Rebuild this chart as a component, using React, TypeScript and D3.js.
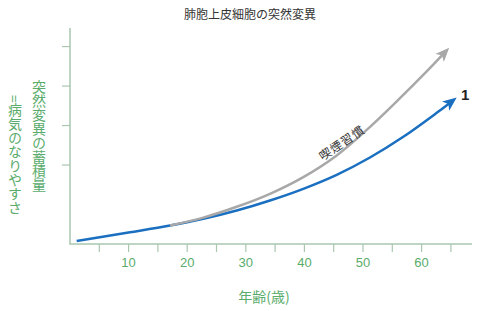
import React from "react";
import * as d3 from "d3";

const title = "肺胞上皮細胞の突然変異";
const xTitle = "年齢(歳)";
const yTitle1 = "突然変異の蓄積量";
const yTitle2 = "=病気のなりやすさ";
const baseLabel = "1";
const smokeLabel = "喫煙習慣";

const xTickMinor = [5, 10, 15, 20, 25, 30, 35, 40, 45, 50, 55, 60, 65];
const xTickLabels = [10, 20, 30, 40, 50, 60];
const yTicks = [2, 3, 4, 5];

// baseline accumulation (blue)
const baseAge = [1.14, 10.24, 17.06, 22.75, 28.45, 34.13, 39.81, 45.51, 51.19, 56.88, 62.58, 65.36];
const baseVal = [0.076, 0.296, 0.468, 0.638, 0.848, 1.102, 1.398, 1.752, 2.19, 2.715, 3.322, 3.636];

// with smoking habit (gray)
const smokeAge = [17.06, 22.75, 28.45, 34.13, 39.81, 45.51, 50.63, 55.75, 60.87, 64.16];
const smokeVal = [0.468, 0.669, 0.942, 1.271, 1.694, 2.244, 2.889, 3.611, 4.371, 4.885];

const W = 500;
const H = 311;
const green = "#5aac6c";
const axisCol = "#a9c7b1";
const blue = "#1a6fc0";
const gray = "#a8a8a8";

export default function App() {
  const x = d3.scaleLinear().domain([0, 68.6]).range([70, 472]);
  const y = d3.scaleLinear().domain([0, 5.47]).range([244, 28]);
  const line = d3
    .line<[number, number]>()
    .x((d) => x(d[0]))
    .y((d) => y(d[1]))
    .curve(d3.curveCatmullRom.alpha(0.5));
  const basePts = baseAge.map((a, i) => [a, baseVal[i]] as [number, number]);
  const smokePts = smokeAge.map((a, i) => [a, smokeVal[i]] as [number, number]);
  const bEnd = basePts[basePts.length - 1];
  const font = "'Noto Sans CJK JP', 'Noto Sans', sans-serif";
  const numFont = "'Liberation Sans', Arial, sans-serif";
  return (
    <svg
      width={W}
      height={H}
      style={{ position: "absolute", left: 0, top: 0, background: "#fff" }}
    >
      <defs>
        <marker
          id="arrB"
          markerUnits="userSpaceOnUse"
          markerWidth={14}
          markerHeight={12}
          viewBox="0 0 12 10"
          refX={8}
          refY={5}
          orient="auto"
        >
          <path d="M0,0 L12,5 L0,10 L3,5 z" fill={blue} />
        </marker>
        <marker
          id="arrG"
          markerUnits="userSpaceOnUse"
          markerWidth={14}
          markerHeight={12}
          viewBox="0 0 12 10"
          refX={8}
          refY={5}
          orient="auto"
        >
          <path d="M0,0 L12,5 L0,10 L3,5 z" fill={gray} />
        </marker>
      </defs>
      <text x={250} y={19} textAnchor="middle" fontSize={12} fill="#333" fontFamily={font}>
        {title}
      </text>
      {/* axes */}
      <line x1={x(0)} x2={x(0)} y1={y(5.47)} y2={y(0)} stroke={axisCol} strokeWidth={1.5} />
      <line x1={x(0) - 0.75} x2={x(68.6)} y1={y(0)} y2={y(0)} stroke={axisCol} strokeWidth={1.5} />
      {yTicks.map((t) => (
        <line key={t} x1={x(0) - 8} x2={x(0)} y1={y(t)} y2={y(t)} stroke={axisCol} strokeWidth={1.2} />
      ))}
      {xTickMinor.map((t) => (
        <line key={t} x1={x(t)} x2={x(t)} y1={y(0)} y2={y(0) + 8} stroke={axisCol} strokeWidth={1.2} />
      ))}
      {xTickLabels.map((t) => (
        <text key={t} x={x(t)} y={267} textAnchor="middle" fontSize={13} fill={green} fontFamily={numFont}>
          {t}
        </text>
      ))}
      <text x={264} y={302} textAnchor="middle" fontSize={14} fill={green} fontFamily={font}>
        {xTitle}
      </text>
      <text
        x={39}
        y={80}
        fontSize={14}
        fill={green}
        fontFamily={font}
        style={{ writingMode: "vertical-rl" } as any}
      >
        {yTitle1}
      </text>
      <text
        x={15}
        y={95}
        fontSize={14}
        fill={green}
        fontFamily={font}
        style={{ writingMode: "vertical-rl" } as any}
      >
        {yTitle2}
      </text>
      {/* curves */}
      <path d={line(basePts) || ""} fill="none" stroke={blue} strokeWidth={2.5} markerEnd="url(#arrB)" />
      <path d={line(smokePts) || ""} fill="none" stroke={gray} strokeWidth={2.5} markerEnd="url(#arrG)" />
      <text
        x={x(bEnd[0]) + 8}
        y={y(bEnd[1])}
        fontSize={15}
        fontWeight="bold"
        fill="#222"
        fontFamily={numFont}
      >
        {baseLabel}
      </text>
      <text
        x={0}
        y={0}
        dy="0.35em"
        transform={`translate(342,143) rotate(-34)`}
        textAnchor="middle"
        fontSize={12}
        letterSpacing={1}
        fill="#333"
        fontFamily={font}
      >
        {smokeLabel}
      </text>
    </svg>
  );
}
